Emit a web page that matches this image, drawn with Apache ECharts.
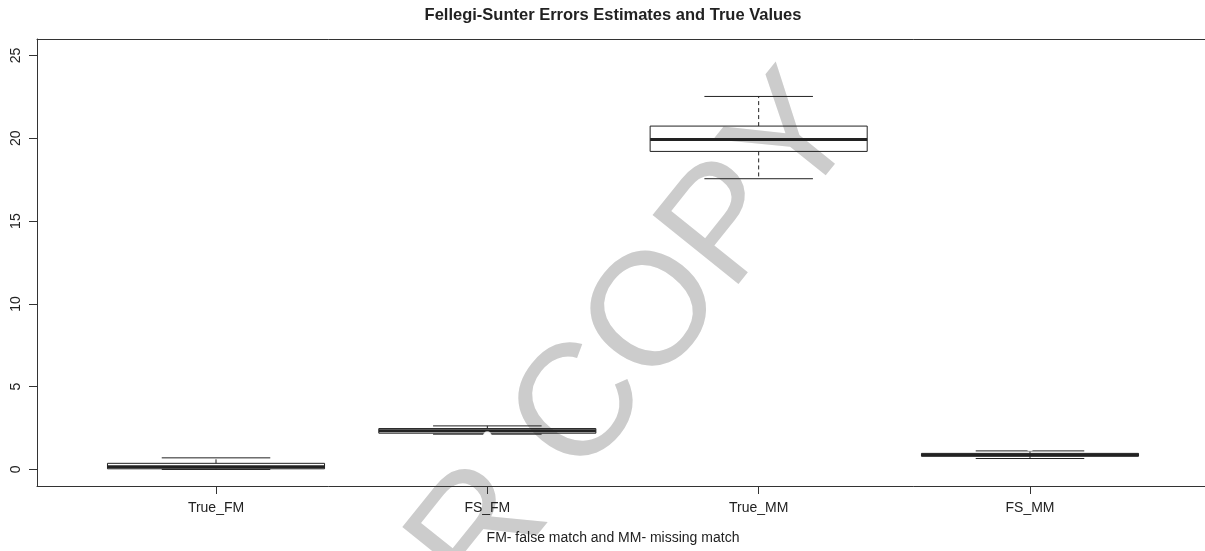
<!DOCTYPE html>
<html><head><meta charset="utf-8">
<script src="https://cdn.jsdelivr.net/npm/echarts@6/dist/echarts.min.js"></script>
<style>html,body{margin:0;padding:0;background:#fff}#c{width:1205px;height:551px}</style>
</head><body><div id="c"></div>
<script>
const categories = ['True_FM', 'FS_FM', 'True_MM', 'FS_MM'];
const lowerWhisker = [0.00, 2.13, 17.56, 0.66];
const q1 = [0.04, 2.19, 19.21, 0.80];
const median = [0.17, 2.34, 19.93, 0.88];
const q3 = [0.37, 2.47, 20.74, 0.97];
const upperWhisker = [0.70, 2.63, 22.53, 1.12];
const outlierCategory = ['FS_FM', 'FS_FM', 'FS_MM'];
const outlierValue = [2.03, 1.94, 1.36];
const yTicks = [0, 5, 10, 15, 20, 25];
const titleText = 'Fellegi-Sunter Errors Estimates and True Values';
const xTitle = 'FM- false match and MM- missing match';
const watermark = 'FOR COPY';

const boxData = categories.map((c, i) => [i, lowerWhisker[i], q1[i], median[i], q3[i], upperWhisker[i]]);
const outlierData = outlierCategory.map((c, i) => [categories.indexOf(c), outlierValue[i]]);

const FONT = '"Liberation Sans", Arial, sans-serif';
const LC = '#222';
const FRAME = {show: true, onZero: false, lineStyle: {color: '#333', width: 1}};
const chart = echarts.init(document.getElementById('c'), null, {renderer: 'canvas'});
chart.setOption({
  animation: false,
  backgroundColor: '#fff',
  graphic: [
    {type: 'text', x: 568, y: 426, rotation: 0.895, z: 0, silent: true,
     style: {text: watermark, font: '160px "Liberation Sans"', fill: '#cccccc', align: 'center', verticalAlign: 'middle'}},
    {type: 'text', x: 613, y: 15, z: 5, silent: true,
     style: {text: titleText, font: 'bold 16.5px "Liberation Sans"', fill: '#222', align: 'center', verticalAlign: 'middle'}},
    {type: 'text', x: 613, y: 538, z: 5, silent: true,
     style: {text: xTitle, font: '14px "Liberation Sans"', fill: '#222', align: 'center', verticalAlign: 'middle'}}
  ],
  grid: [
    {left: 37, top: 39, width: 1172, height: 447},
    {left: 80.35, top: 39, width: 1085.3, height: 447}
  ],
  xAxis: [
    {type: 'value', gridIndex: 0, min: 0, max: 1, position: 'bottom',
     axisLine: FRAME, axisTick: {show: false}, axisLabel: {show: false}, splitLine: {show: false}},
    {type: 'value', gridIndex: 0, min: 0, max: 1, position: 'top',
     axisLine: FRAME, axisTick: {show: false}, axisLabel: {show: false}, splitLine: {show: false}},
    {type: 'category', gridIndex: 1, data: categories, position: 'bottom',
     axisLine: {show: false, onZero: false},
     axisTick: {show: true, alignWithLabel: true, length: 8, lineStyle: {color: '#333'}},
     axisLabel: {margin: 15, fontFamily: FONT, fontSize: 14, color: '#222'}}
  ],
  yAxis: [
    {type: 'value', gridIndex: 0, min: -1, max: 26,
     axisLine: FRAME, splitLine: {show: false},
     axisTick: {show: true, length: 8, customValues: yTicks, lineStyle: {color: '#333'}},
     axisLabel: {rotate: 90, margin: 14, customValues: yTicks, fontFamily: FONT, fontSize: 14, color: '#222'}},
    {type: 'value', gridIndex: 1, min: -1, max: 26, show: false}
  ],
  series: [
    {
      type: 'custom', xAxisIndex: 2, yAxisIndex: 1, data: boxData, z: 10,
      encode: {x: 0, y: [1, 2, 3, 4, 5]},
      renderItem: function (params, api) {
        const i = api.value(0);
        const pLo = api.coord([i, api.value(1)]);
        const pQ1 = api.coord([i, api.value(2)]);
        const pMed = api.coord([i, api.value(3)]);
        const pQ3 = api.coord([i, api.value(4)]);
        const pHi = api.coord([i, api.value(5)]);
        const band = api.size([1, 0])[0];
        const x = pMed[0];
        const bw = band * 0.4, cw = band * 0.2;
        const thin = {stroke: LC, lineWidth: 1, fill: null};
        const dash = {stroke: LC, lineWidth: 1, lineDash: [4, 3], fill: null};
        return {
          type: 'group',
          children: [
            {type: 'line', shape: {x1: x, y1: pQ3[1], x2: x, y2: pHi[1]}, style: dash},
            {type: 'line', shape: {x1: x, y1: pQ1[1], x2: x, y2: pLo[1]}, style: dash},
            {type: 'line', shape: {x1: x - cw, y1: pHi[1], x2: x + cw, y2: pHi[1]}, style: thin},
            {type: 'line', shape: {x1: x - cw, y1: pLo[1], x2: x + cw, y2: pLo[1]}, style: thin},
            {type: 'rect', shape: {x: x - bw, y: pQ3[1], width: 2 * bw, height: pQ1[1] - pQ3[1]}, style: thin},
            {type: 'line', shape: {x1: x - bw, y1: pMed[1], x2: x + bw, y2: pMed[1]}, style: {stroke: LC, lineWidth: 3}}
          ]
        };
      }
    },
    {
      type: 'scatter', xAxisIndex: 2, yAxisIndex: 1, data: outlierData, z: 11,
      symbol: 'emptyCircle', symbolSize: 7,
      itemStyle: {color: '#fff', borderColor: LC, borderWidth: 1}
    }
  ]
});
</script></body></html>
